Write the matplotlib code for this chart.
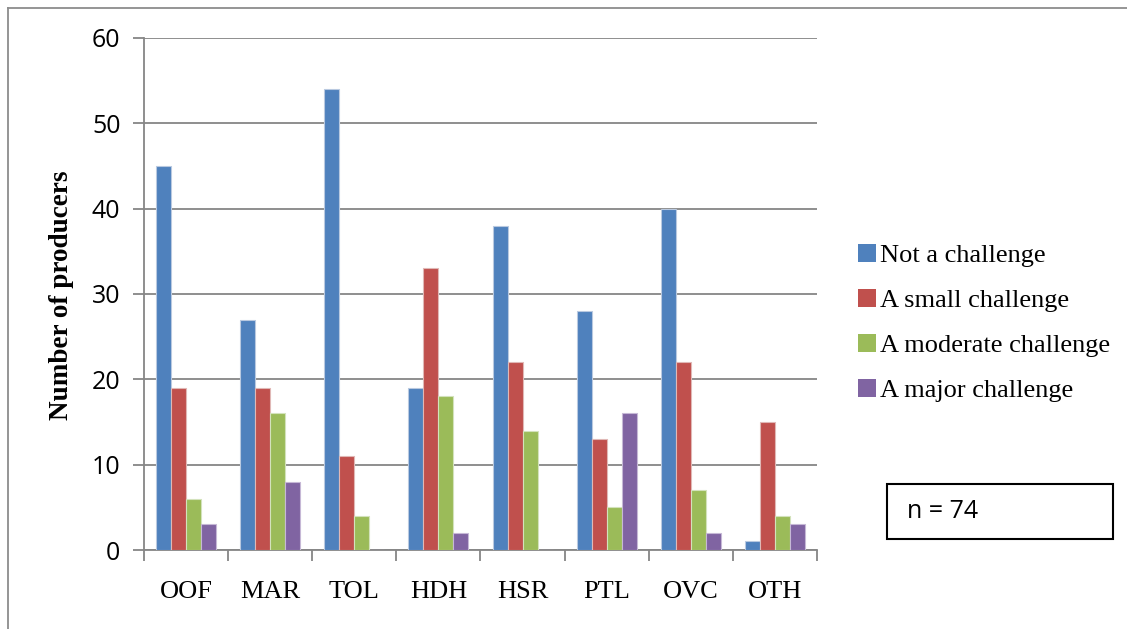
import matplotlib
matplotlib.use("Agg")
import matplotlib.pyplot as plt
import numpy as np
from matplotlib.patches import Patch, Rectangle
from matplotlib.lines import Line2D

categories = ["OOF", "MAR", "TOL", "HDH", "HSR", "PTL", "OVC", "OTH"]
series_names = ["Not a challenge", "A small challenge", "A moderate challenge", "A major challenge"]
not_a_challenge = [45, 27, 54, 19, 38, 28, 40, 1]
small_challenge = [19, 19, 11, 33, 22, 13, 22, 15]
moderate_challenge = [6, 16, 4, 18, 14, 5, 7, 4]
major_challenge = [3, 8, 0, 2, 0, 16, 2, 3]
y_ticks = [0, 10, 20, 30, 40, 50, 60]
note_text = "n = 74"

colors = ["#4F81BD", "#C0504D", "#9BBB59", "#8064A2"]
edge_colors = ["#B9C9E0", "#E0B8B6", "#D3E2BC", "#C6B8D6"]

W, H = 1127, 629
fig = plt.figure(figsize=(W / 100, H / 100), dpi=100)
ax = fig.add_axes([144 / W, 1 - 550 / H, (817 - 144) / W, (550 - 38) / H])

series = [not_a_challenge, small_challenge, moderate_challenge, major_challenge]
x = np.arange(len(categories))
bw = 0.178
for i, (vals, c, ec) in enumerate(zip(series, colors, edge_colors)):
    ax.bar(x + (i - 1.5) * bw, vals, width=bw, color=c, edgecolor=ec, linewidth=0.8,
           zorder=3, label=series_names[i])

grid_c = "#868686"
ax.set_xlim(-0.5, len(categories) - 0.5)
ax.set_ylim(0, 60)
ax.set_yticks(y_ticks)
ax.set_yticklabels([str(t) for t in y_ticks], fontsize=18, family="Open Sans")
ax.yaxis.grid(True, color=grid_c, linewidth=1.3, zorder=0)
ax.tick_params(axis="y", length=8, width=1.3, color=grid_c, pad=9, direction="out")

# category boundary ticks on x
ax.set_xticks(np.arange(len(categories) + 1) - 0.5)
ax.set_xticklabels([])
ax.tick_params(axis="x", length=8, width=1.3, color=grid_c, direction="out")
ax.set_xticks(x, minor=True)
ax.set_xticklabels(categories, minor=True, fontsize=19, family="Liberation Serif")
ax.tick_params(axis="x", which="minor", length=0, pad=22)

for s in ["top", "right"]:
    ax.spines[s].set_visible(False)
for s in ["left", "bottom"]:
    ax.spines[s].set_color(grid_c)
    ax.spines[s].set_linewidth(1.3)

fig.text(61 / W, 1 - 295 / H, "Number of producers", rotation=90, ha="center", va="center",
         fontsize=19.5, fontweight="bold", family="Liberation Serif")

handles = [Patch(facecolor=c, edgecolor="none") for c in colors]
leg = fig.legend(handles, series_names, loc="center left",
                 bbox_to_anchor=(858 / W, 1 - 323 / H), frameon=False,
                 prop={"family": "Liberation Serif", "size": 19},
                 handlelength=0.7, handleheight=0.7, handletextpad=0.15,
                 labelspacing=0.82, borderpad=0, borderaxespad=0)

# n box
fig.patches.append(Rectangle((887 / W, 1 - 539 / H), (1113 - 887) / W, (539 - 484) / H,
                             transform=fig.transFigure, facecolor="white",
                             edgecolor="black", linewidth=1.5))
fig.text(907 / W, 1 - 512 / H, note_text, ha="left", va="center", fontsize=18,
         family="Open Sans")

# outer frame lines (top and left)
fig.add_artist(Line2D([8 / W, 1.0], [1 - 8 / H, 1 - 8 / H], transform=fig.transFigure,
                      color="#8c8c8c", linewidth=1.3))
fig.add_artist(Line2D([8 / W, 8 / W], [0, 1 - 8 / H], transform=fig.transFigure,
                      color="#8c8c8c", linewidth=1.3))

fig.savefig("out.png", dpi=100)
